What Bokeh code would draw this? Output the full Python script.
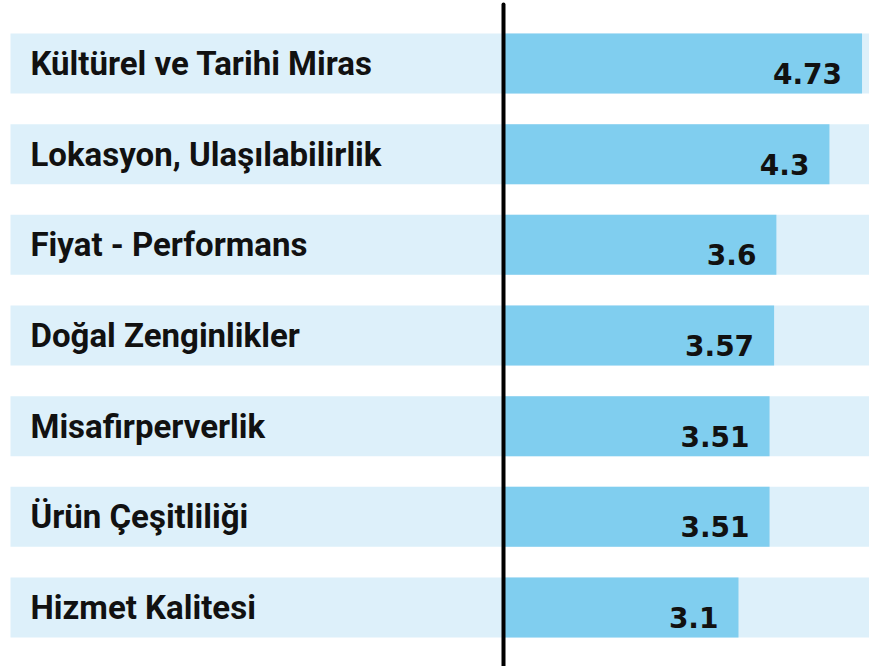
from bokeh.plotting import figure
from bokeh.models import Range1d, ColumnDataSource
from bokeh.embed import file_html
from bokeh.resources import INLINE
from bokeh.core.properties import value

categories = ["Kültürel ve Tarihi Miras", "Lokasyon, Ulaşılabilirlik", "Fiyat - Performans",
              "Doğal Zenginlikler", "Misafirperverlik", "Ürün Çeşitliliği", "Hizmet Kalitesi"]
scores = [4.73, 4.3, 3.6, 3.57, 3.51, 3.51, 3.1]
score_labels = ["4.73", "4.3", "3.6", "3.57", "3.51", "3.51", "3.1"]

W, H = 869, 666
scale = 75.8
zero_px = 503
x_start = -zero_px / scale
x_end = (W - zero_px) / scale
pitch = 90.67
top_px = 63
y_start = (H - top_px) / pitch
y_end = -top_px / pitch
band_h = 60 / pitch

idx = list(range(len(categories)))
band_left = x_start + 10 / scale
src = ColumnDataSource(dict(y=idx, cat=categories, v=scores, lab=score_labels,
                            left=[band_left] * len(idx), right=[x_end + 1] * len(idx),
                            zero=[0] * len(idx), lx=[band_left] * len(idx)))

p = figure(width=W, height=H, output_backend="svg", toolbar_location=None,
           x_range=Range1d(x_start, x_end), y_range=Range1d(y_start, y_end),
           min_border=0, outline_line_color=None)
p.axis.visible = False
p.grid.visible = False
p.background_fill_color = "white"

p.hbar(y="y", left="left", right="right", height=band_h, source=src,
       fill_color="#DDF0FA", line_color=None)
p.hbar(y="y", left="zero", right="v", height=band_h, source=src,
       fill_color="#80CEEF", line_color=None)

p.text(x="lx", y="y", text="cat", source=src, x_offset=20, y_offset=0,
       text_font=value("Roboto"), text_font_style="bold", text_font_size="33px",
       text_color="#111111", text_baseline="alphabetic", text_align="left")
p.text(x="v", y="y", text="lab", source=src, x_offset=-20, y_offset=10,
       text_font=value("DejaVu Sans"), text_font_style="bold", text_font_size="28px",
       text_color="#111111", text_baseline="alphabetic", text_align="right")

# zero line
p.segment(x0=0, x1=0, y0=y_end + 4 / pitch, y1=y_start + 1, line_color="black",
          line_width=4, line_cap="round")

open("out.html", "w").write(file_html(p, INLINE))
